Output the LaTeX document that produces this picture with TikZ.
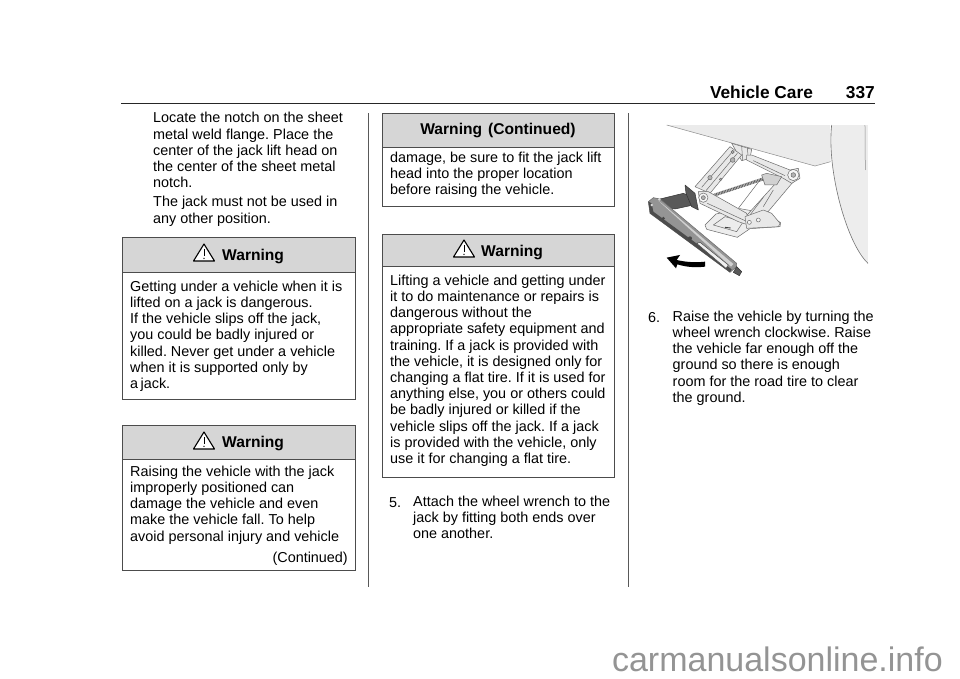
\documentclass[tikz,border=0pt]{standalone}
\usepackage{fontspec}
\setmainfont{Liberation Sans}
\tikzset{
 bodytext/.style={anchor=north west,yshift=11.34pt,inner sep=0pt,font=\fontsize{14.4}{16.2}\selectfont\frenchspacing,align=left,execute at begin node=\strut},
 headtext/.style={inner sep=0pt,font=\fontsize{15.6}{18}\selectfont\bfseries},
 warnbox/.style={draw=black!70,line width=0.9pt},
 warnhead/.style={draw=black!70,fill=black!16,line width=0.9pt},
 jackline/.style={draw=black!58,line width=0.5pt,line join=round},
 jackfill/.style={jackline,fill=black!9},
 jackdark/.style={draw=black!80,fill=black!65,line width=0.5pt,line join=round},
}
\newcommand{\warntri}[2]{%
 \draw[line width=1.1pt,line join=round,fill=white] (#1,#2-9) -- (#1+10.5,#2+8) -- (#1-10.5,#2+8) -- cycle;
 \draw[line width=0.9pt] (#1,#2-4) -- (#1,#2+3);
 \fill (#1,#2+5.4) circle (0.7);
}
\begin{document}
\begin{tikzpicture}[x=1pt,y=-1pt]
\useasboundingbox (0,0) rectangle (960,678);
\fill[white] (0,0) rectangle (960,678);
% header
\node[inner sep=0pt,anchor=base east,font=\fontsize{17.3}{20}\selectfont\bfseries] (hdr) at (875,98.5) {Vehicle Care\hspace{33pt}337};
\draw[line width=1.3pt,black!85] (121,103.5) -- (875,103.5);
\draw[line width=0.9pt,black!65] (368,113) -- (368,587);
\draw[line width=0.9pt,black!65] (628,113) -- (628,587);
% column 1
\node[bodytext] (p1) at (153,123.5) {Locate the notch on the sheet\\metal weld flange. Place the\\center of the jack lift head on\\the center of the sheet metal\\notch.};
\node[bodytext] (p2) at (153,207.5) {The jack must not be used in\\any other position.};
\draw[warnbox] (122,237) rectangle (355,399);
\draw[warnhead] (122,237) rectangle (355,272);
\warntri{204}{253}
\node[headtext,anchor=base west] (w1) at (222,260) {Warning};
\node[bodytext] (b1) at (130,292) {Getting under a vehicle when it is\\lifted on a jack is dangerous.\\If the vehicle slips off the jack,\\you could be badly injured or\\killed. Never get under a vehicle\\when it is supported only by\\a\,jack.};
\draw[warnbox] (122,425) rectangle (355,570);
\draw[warnhead] (122,425) rectangle (355,459);
\warntri{204}{441}
\node[headtext,anchor=base west] (w2) at (222,447.5) {Warning};
\node[bodytext] (b2) at (130,477) {Raising the vehicle with the jack\\improperly positioned can\\damage the vehicle and even\\make the vehicle fall. To help\\avoid personal injury and vehicle};
\node[inner sep=0pt,anchor=base east,font=\fontsize{14.4}{16.2}\selectfont] (c2) at (348,562) {(Continued)};
% column 2
\draw[warnbox] (382,113) rectangle (614,206);
\draw[warnhead] (382,113) rectangle (614,147);
\node[headtext] (w3) at (498,130) {Warning\hspace{6pt}(Continued)};
\node[bodytext] (b3) at (390,163) {damage, be sure to fit the jack lift\\head into the proper location\\before raising the vehicle.};
\draw[warnbox] (382,234) rectangle (614,477);
\draw[warnhead] (382,234) rectangle (614,266);
\warntri{464}{249}
\node[headtext,anchor=base west] (w4) at (481,256.5) {Warning};
\node[bodytext] (b4) at (390,286) {Lifting a vehicle and getting under\\it to do maintenance or repairs is\\dangerous without the\\appropriate safety equipment and\\training. If a jack is provided with\\the vehicle, it is designed only for\\changing a flat tire. If it is used for\\anything else, you or others could\\be badly injured or killed if the\\vehicle slips off the jack. If a jack\\is provided with the vehicle, only\\use it for changing a flat tire.};
\node[bodytext] (s5) at (389,507) {5.};
\node[bodytext] (s5a) at (413,507) {Attach the wheel wrench to the\\jack by fitting both ends over\\one another.};
% column 3
\node[bodytext] (s6) at (648,322) {6.};
\node[bodytext] (s6a) at (672.5,322) {Raise the vehicle by turning the\\wheel wrench clockwise. Raise\\the vehicle far enough off the\\ground so there is enough\\room for the road tire to clear\\the ground.};
% illustration (coordinates in 1/3 px from (630,110))
\begin{scope}[shift={(630,110)},x=0.3333pt,y=-0.3333pt]
 \fill[black!8] (110,45) -- (600,45) -- (602,155) -- (555,168) -- cycle;
 \draw[black!45,line width=0.5pt] (110,45) -- (555,168) -- (602,155);
 \fill[black!7] (605,45) -- (714,45) -- (714,460) .. controls (650,400) and (590,180) .. (605,45);
 \draw[black!55,line width=0.6pt] (714,460) .. controls (650,400) and (590,180) .. (605,45);
 \draw[black!45,line width=0.5pt] (705,45) -- (706,180);
 % base
 \path[jackfill,fill=black!7] (225,345) -- (258,312) -- (330,296) -- (410,310) -- (452,338) -- (450,350) -- (360,356) -- (322,382) -- (230,358) -- cycle;
 \draw[jackline] (250,345) -- (285,320) -- (340,335) -- (320,365) -- cycle;
 \draw[black!75,line width=0.9pt] (285,352) -- (302,354);
 % top bracket and back arms
 \path[jackfill] (305,100) -- (365,118) -- (360,145) -- (335,152) -- cycle;
 \draw[jackline] (335,108) -- (338,150) (352,112) -- (355,148);
 \path[jackfill] (195,230) -- (300,110) -- (335,135) -- (240,250) -- cycle;
 \draw[jackline] (215,232) -- (310,122) (228,242) -- (322,130);
 \path[jackfill] (455,200) -- (490,215) -- (400,322) -- (345,322) -- cycle;
 \draw[jackline] (390,210) -- (325,295) (400,262) -- (360,315) (430,240) -- (400,290);
 % screw
 \draw[black!62,line width=3pt,dash pattern=on 1pt off 0.6pt] (245,258) -- (420,200);
 \path[jackfill] (350,135) -- (365,135) -- (480,180) -- (505,175) -- (510,205) -- (485,220) -- (460,205) -- (350,150) -- cycle;
 \draw[jackline] (370,152) -- (465,197);
 \path[jackfill,fill=black!18] (395,195) -- (410,190) -- (455,200) -- (440,225) -- (405,225) -- cycle;
 \draw[jackfill,fill=black!4] (490,195) circle[radius=17];
 \draw[jackfill,fill=black!30] (490,195) circle[radius=7];
 \path[jackfill] (205,245) -- (235,245) -- (350,310) -- (355,345) -- (325,335) -- (210,280) -- cycle;
 \draw[jackline] (232,280) -- (345,332);
 \path[jackfill] (345,320) -- (400,300) -- (425,310) -- (450,340) -- (445,350) -- (350,355) -- cycle;
 \draw[jackfill,fill=black!4] (358,337) circle[radius=6];
 \draw[jackfill,fill=black!4] (385,330) circle[radius=6];
 \draw[jackfill,fill=black!4] (220,263) circle[radius=14];
 \draw[jackfill,fill=black!30] (220,263) circle[radius=6];
 \draw[jackfill,fill=black!30] (240,203) circle[radius=6.5];
 \draw[jackfill,fill=black!30] (272,208) circle[radius=4];
 \draw[jackfill,fill=black!30] (308,150) circle[radius=7];
 \draw[jackfill,fill=black!30] (308,126) circle[radius=5];
 % handle
 \path[jackdark] (90,267) -- (160,250) -- (190,263) -- (190,285) -- (135,297) -- (100,290) -- cycle;
 \path[jackdark] (165,225) -- (195,250) -- (205,300) -- (185,290) -- (168,250) -- cycle;
 \path[jackfill,fill=black!42] (55,275) -- (70,263) -- (90,267) -- (320,460) -- (320,470) -- (300,487) -- (60,310) -- cycle;
 \path[draw=none,fill=black!70] (55,275) -- (65,280) -- (70,305) -- (305,478) -- (300,487) -- (60,310) -- cycle;
 \path[draw=none,fill=black!18] (85,272) -- (98,282) -- (310,462) -- (303,470) -- cycle;
 \draw[black!70,fill=black!6,line width=0.5pt] (200,400) -- (210,397) -- (295,465) -- (288,475) -- cycle;
 \fill[black!72] (100,325) circle[radius=5] (180,385) circle[radius=6];
 \fill[black!15] (65,285) circle[radius=4] (88,268) circle[radius=4];
 \path[jackdark] (320,470) -- (335,485) -- (328,497) -- (310,487) -- cycle;
 % arrow
 \fill[black] (110,443) -- (150,435) -- (140,450) .. controls (170,457) and (200,458) .. (225,455) -- (225,470) .. controls (190,474) and (165,470) .. (142,463) -- (138,475) -- cycle;
\end{scope}
% watermark
\node[inner sep=0pt,anchor=base east,text=black!42,font=\fontsize{34}{38}\selectfont] (wm) at (943,671) {carmanualsonline.info};
\end{tikzpicture}
\end{document}
